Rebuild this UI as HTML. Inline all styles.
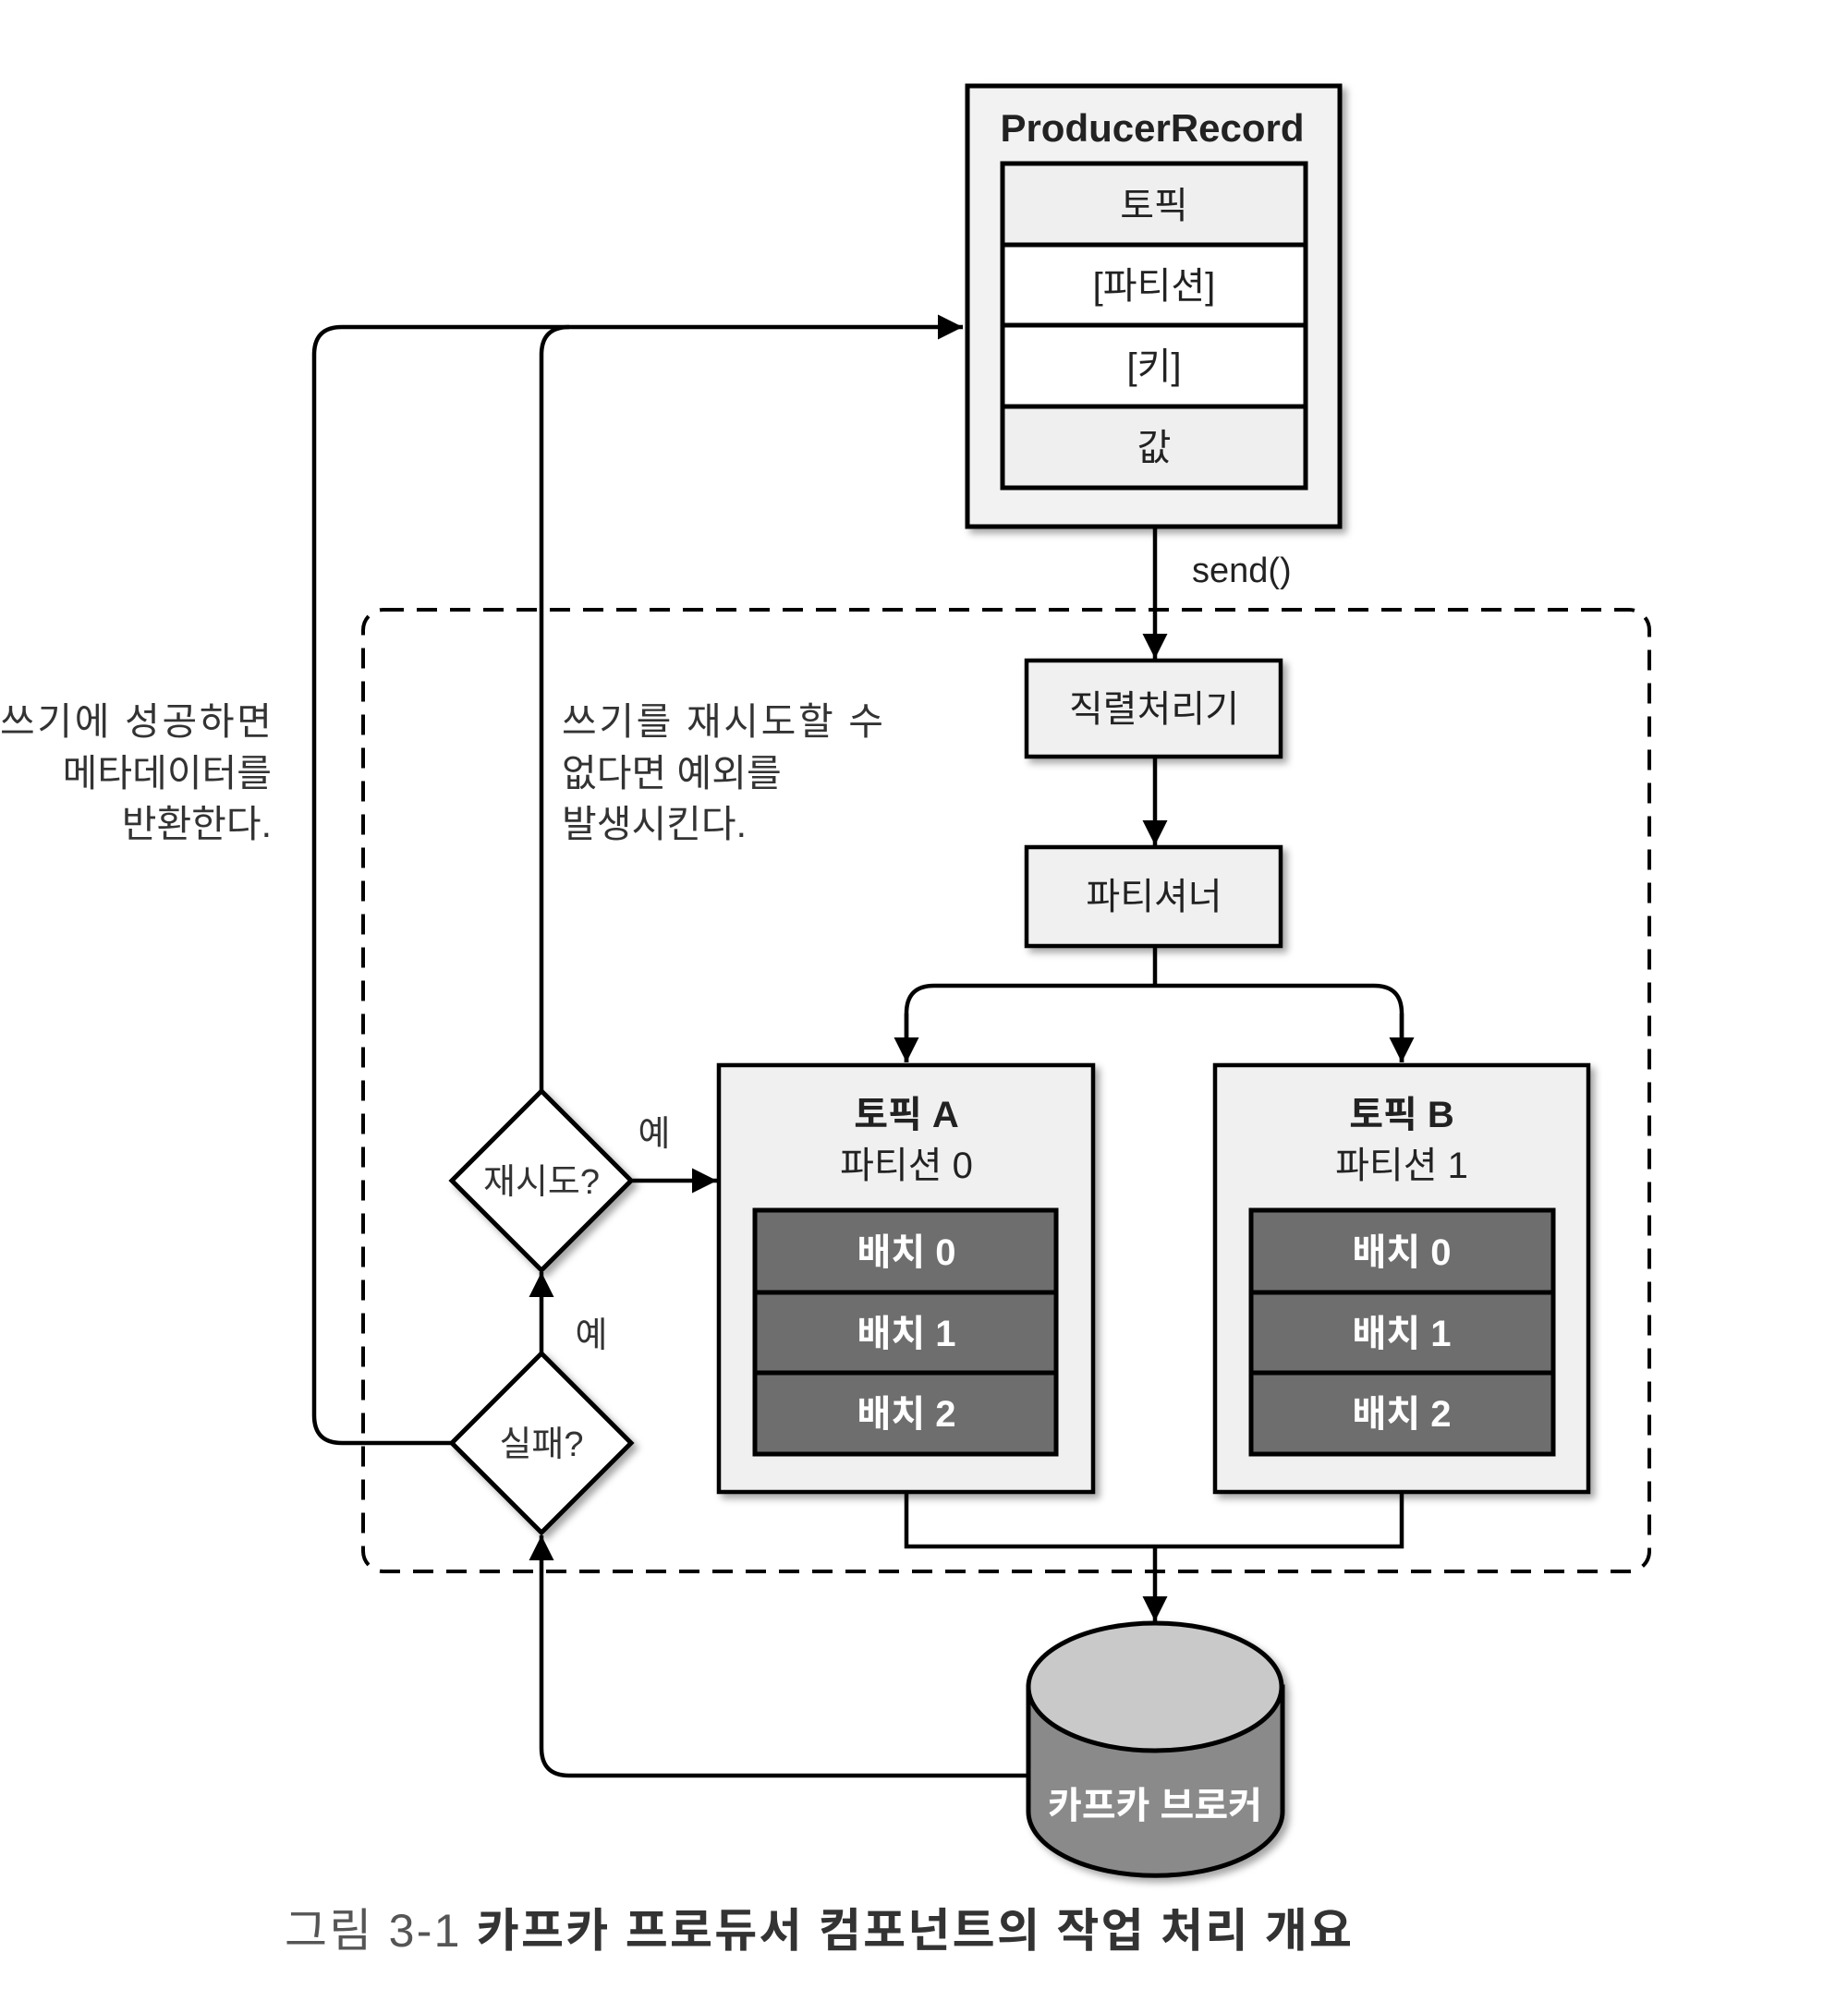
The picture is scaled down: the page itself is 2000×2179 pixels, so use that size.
<!DOCTYPE html>
<html><head><meta charset="utf-8"><style>
html,body{margin:0;padding:0;background:#fff;}
svg{display:block;}
text{font-family:"Liberation Sans","Noto Sans CJK KR",sans-serif;}
</style></head><body>
<svg width="2000" height="2179" viewBox="0 0 2000 2179" xmlns="http://www.w3.org/2000/svg">
<defs>
<marker id="ah" viewBox="0 0 10 10" refX="10" refY="5" markerWidth="6" markerHeight="6" markerUnits="strokeWidth" orient="auto"><path d="M0,0 L10,5 L0,10 z" fill="#000"/></marker>
<filter id="sh" x="-10%" y="-10%" width="130%" height="130%"><feDropShadow dx="5" dy="5" stdDeviation="4" flood-color="#000" flood-opacity="0.35"/></filter>
</defs>
<g stroke="#000" stroke-width="4.5" fill="none">
<rect x="393" y="660" width="1392" height="1041" rx="22" stroke-dasharray="22 14" stroke-width="4"/>
<path d="M489,1562 L370,1562 Q340,1562 340,1532 L340,384 Q340,354 370,354 L1042,354" marker-end="url(#ah)"/>
<path d="M586,1195 L586,384 Q586,354 616,354"/>
<path d="M1250,569 L1250,713" marker-end="url(#ah)"/>
<path d="M1250,819 L1250,915" marker-end="url(#ah)"/>
<path d="M1250,1024 L1250,1067 M1011,1067 L1487,1067 M981,1150 L981,1097 Q981,1067 1011,1067 M1517,1150 L1517,1097 Q1517,1067 1487,1067"/>
<path d="M981,1097 L981,1150" marker-end="url(#ah)"/>
<path d="M1517,1097 L1517,1150" marker-end="url(#ah)"/>
<path d="M981,1615 L981,1674 L1517,1674 L1517,1615"/>
<path d="M1250,1674 L1250,1755" marker-end="url(#ah)"/>
<path d="M1113,1922 L616,1922 Q586,1922 586,1892 L586,1662" marker-end="url(#ah)"/>
<path d="M586,1465 L586,1377" marker-end="url(#ah)"/>
<path d="M683,1278 L776,1278" marker-end="url(#ah)"/>
</g>
<g filter="url(#sh)"><rect x="1047" y="93" width="403" height="477" fill="#f2f2f2" stroke="#000" stroke-width="5"/></g>
<rect x="1085" y="177" width="328" height="88" fill="#efefef"/>
<rect x="1085" y="265" width="328" height="175" fill="#fff"/>
<rect x="1085" y="440" width="328" height="88" fill="#efefef"/>
<g stroke="#000" stroke-width="5" fill="none"><rect x="1085" y="177" width="328" height="351"/><path d="M1085,265H1413M1085,352H1413M1085,440H1413"/></g>
<g font-size="40" text-anchor="middle" fill="#222">
<text x="1247" y="153" font-weight="bold" font-size="42">ProducerRecord</text>
<text x="1249" y="236">토픽</text>
<text x="1249" y="323">[파티션]</text>
<text x="1249" y="410">[키]</text>
<text x="1249" y="498">값</text>
<text x="1290" y="630" font-size="38" text-anchor="start">send()</text>
</g>
<g filter="url(#sh)" fill="#f0f0f0" stroke="#000" stroke-width="4.5">
<rect x="1111" y="715" width="275" height="104"/>
<rect x="1111" y="917" width="275" height="107"/>
</g>
<g font-size="40" text-anchor="middle" fill="#222">
<text x="1249" y="781">직렬처리기</text>
<text x="1249" y="984">파티셔너</text>
</g>
<g filter="url(#sh)" fill="#f0f0f0" stroke="#000" stroke-width="4.5">
<rect x="778" y="1153" width="405" height="462"/>
<rect x="1315" y="1153" width="404" height="462"/>
</g>
<g fill="#6e6e6e" stroke="#000" stroke-width="5">
<rect x="817" y="1310" width="326" height="264"/>
<rect x="1354" y="1310" width="327" height="264"/>
</g>
<g stroke="#000" stroke-width="5"><path d="M817,1399H1143M817,1486H1143M1354,1399H1681M1354,1486H1681"/></g>
<g font-size="40" text-anchor="middle" fill="#222">
<text x="981" y="1220" font-weight="bold">토픽 A</text>
<text x="981" y="1275">파티션 0</text>
<text x="1517" y="1220" font-weight="bold">토픽 B</text>
<text x="1517" y="1275">파티션 1</text>
</g>
<g font-size="40" text-anchor="middle" fill="#fff" font-weight="bold">
<text x="981" y="1369">배치 0</text><text x="981" y="1457">배치 1</text><text x="981" y="1544">배치 2</text>
<text x="1517" y="1369">배치 0</text><text x="1517" y="1457">배치 1</text><text x="1517" y="1544">배치 2</text>
</g>
<g filter="url(#sh)" fill="#fff" stroke="#000" stroke-width="5">
<path d="M586,1181 L683,1278 L586,1375 L489,1278 Z"/>
<path d="M586,1465 L683,1562 L586,1659 L489,1562 Z"/>
</g>
<g font-size="38" text-anchor="middle" fill="#333">
<text x="586" y="1292">재시도?</text>
<text x="586" y="1576">실패?</text>
<text x="708" y="1240">예</text>
<text x="640" y="1458">예</text>
</g>
<g filter="url(#sh)">
<path d="M1113,1826 L1113,1961 A137,69 0 0 0 1388,1961 L1388,1826 Z" fill="#8a8a8a" stroke="#000" stroke-width="5"/>
<ellipse cx="1250" cy="1826" rx="137" ry="69" fill="#c9c9c9" stroke="#000" stroke-width="5"/>
</g>
<text x="1250" y="1968" font-size="40" text-anchor="middle" fill="#fff" font-weight="bold">카프카 브로커</text>
<g font-size="41" fill="#333">
<text x="294" y="795" text-anchor="end" textLength="294">쓰기에 성공하면</text>
<text x="294" y="851" text-anchor="end">메타데이터를</text>
<text x="294" y="906" text-anchor="end">반환한다.</text>
<text x="608" y="795" textLength="348">쓰기를 재시도할 수</text>
<text x="608" y="851">없다면 예외를</text>
<text x="608" y="906">발생시킨다.</text>
</g>
<text x="308" y="2107" font-size="50" fill="#333" textLength="1155"><tspan fill="#555">그림 3-1</tspan><tspan font-weight="bold" dx="16">카프카 프로듀서 컴포넌트의 작업 처리 개요</tspan></text>
</svg>
</body></html>
